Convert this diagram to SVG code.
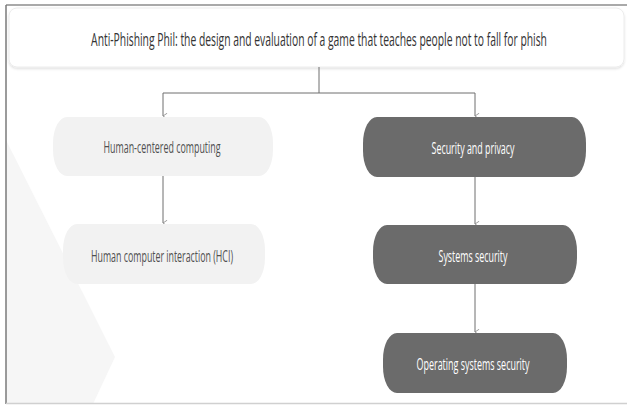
<svg xmlns="http://www.w3.org/2000/svg" width="627" height="405" viewBox="0 0 627 405">
  <defs>
    <marker id="arrow" viewBox="0 0 10 10" refX="5" refY="9" markerWidth="7" markerHeight="7" orient="auto-start-reverse" markerUnits="userSpaceOnUse">
      <path d="M1,3 L5,9 L9,3" fill="none" stroke="#8a8a8a" stroke-width="1.2"/>
    </marker>
    <filter id="shadow" x="-5%" y="-20%" width="110%" height="150%">
      <feDropShadow dx="0" dy="1.5" stdDeviation="1.2" flood-color="#000" flood-opacity="0.12"/>
    </filter>
  </defs>
  <style>
    text { font-family: "Open Sans", "Noto Sans", "DejaVu Sans", sans-serif; text-anchor: middle; dominant-baseline: central; }
    .title { font-size: 19px; fill: #333333; }
    .light rect { fill: #f2f2f2; }
    .light text { font-size: 17px; fill: #505050; }
    .dark rect { fill: #6b6b6b; }
    .dark text { font-size: 17px; fill: #ffffff; }
    .link { fill: none; stroke: #6e6e6e; stroke-width: 1; }
  </style>

  <!-- page background and frame -->
  <rect x="0" y="0" width="627" height="405" fill="#ffffff"/>
  <polygon points="6,140 115,357 93,404 6,404" fill="#f6f6f6"/>
  <line x1="6" y1="5" x2="627" y2="5" stroke="#8c8c8c" stroke-width="1.5"/>
  <line x1="6" y1="5" x2="6" y2="404" stroke="#7a7a7a" stroke-width="1.5"/>
  <line x1="6" y1="403.5" x2="627" y2="403.5" stroke="#d0d0d0" stroke-width="1.5"/>

  <!-- title: narrow lettering is a horizontal squeeze of the normal face -->
  <g id="title">
    <rect x="9" y="8" width="615" height="59" rx="8" fill="#ffffff" stroke="#ececec" filter="url(#shadow)"/>
    <text class="title" transform="translate(319,39) scale(0.53,1)" textLength="860" lengthAdjust="spacingAndGlyphs">Anti-Phishing Phil: the design and evaluation of a game that teaches people not to fall for phish</text>
  </g>

  <!-- connectors -->
  <g id="connectors">
    <polyline class="link" points="319,67 319,93 163,93 163,116" marker-end="url(#arrow)"/>
    <polyline class="link" points="319,93 475,93 475,116" marker-end="url(#arrow)"/>
    <line class="link" x1="163" y1="176" x2="163" y2="223" marker-end="url(#arrow)"/>
    <line class="link" x1="475" y1="177" x2="475" y2="224" marker-end="url(#arrow)"/>
    <line class="link" x1="475" y1="284" x2="475" y2="332" marker-end="url(#arrow)"/>
  </g>

  <!-- left branch -->
  <g id="human-centered-computing" class="light">
    <rect x="53" y="117" width="220" height="59" rx="14" ry="26"/>
    <text transform="translate(162,147) scale(0.5,1)" textLength="234" lengthAdjust="spacingAndGlyphs">Human-centered computing</text>
  </g>
  <g id="hci" class="light">
    <rect x="63" y="224" width="202" height="60" rx="14" ry="26"/>
    <text transform="translate(162,256) scale(0.5,1)" textLength="284" lengthAdjust="spacingAndGlyphs">Human computer interaction (HCI)</text>
  </g>

  <!-- right branch -->
  <g id="security-and-privacy" class="dark">
    <rect x="363" y="117" width="223" height="60" rx="14" ry="26"/>
    <text transform="translate(473,148) scale(0.5,1)" textLength="166" lengthAdjust="spacingAndGlyphs">Security and privacy</text>
  </g>
  <g id="systems-security" class="dark">
    <rect x="373" y="225" width="204" height="59" rx="14" ry="26"/>
    <text transform="translate(473,256) scale(0.5,1)" textLength="138" lengthAdjust="spacingAndGlyphs">Systems security</text>
  </g>
  <g id="operating-systems-security" class="dark">
    <rect x="383" y="333" width="184" height="60" rx="14" ry="26"/>
    <text transform="translate(473,364) scale(0.5,1)" textLength="226" lengthAdjust="spacingAndGlyphs">Operating systems security</text>
  </g>
</svg>
